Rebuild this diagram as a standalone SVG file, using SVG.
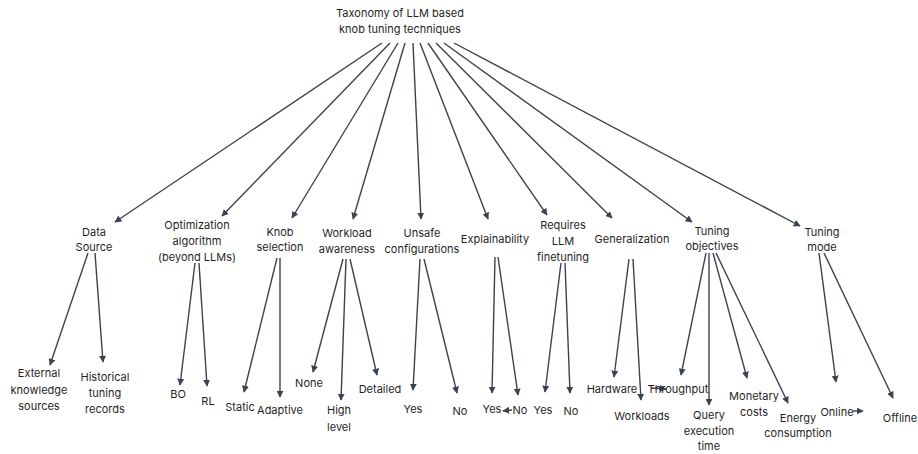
<svg xmlns="http://www.w3.org/2000/svg" width="918" height="454" viewBox="0 0 918 454">
  <style>
    text { font-family: Inter, "Liberation Sans", sans-serif; font-size: 11px; fill: #1f1f1f; text-anchor: middle; }
    .edge { stroke: #3b4251; stroke-width: 1.4; fill: none; marker-end: url(#arrow); }
  </style>
  <defs>
    <marker id="arrow" viewBox="0 0 10 10" refX="9" refY="5" markerWidth="7" markerHeight="7" markerUnits="userSpaceOnUse" orient="auto">
      <path d="M0,0 L10,5 L0,10 z" fill="#3b4251"/>
    </marker>
  </defs>
  <rect width="918" height="454" fill="#ffffff"/>

  <g id="connectors">
    <!-- root to categories -->
    <line class="edge" x1="382" y1="43" x2="115" y2="222"/>
    <line class="edge" x1="390" y1="43" x2="222" y2="216"/>
    <line class="edge" x1="398" y1="43" x2="292" y2="218"/>
    <line class="edge" x1="405" y1="43" x2="353" y2="219"/>
    <line class="edge" x1="413" y1="43" x2="421" y2="219"/>
    <line class="edge" x1="420" y1="43" x2="488" y2="219"/>
    <line class="edge" x1="428" y1="43" x2="547" y2="215"/>
    <line class="edge" x1="436" y1="43" x2="612" y2="218"/>
    <line class="edge" x1="444" y1="43" x2="692" y2="222"/>
    <line class="edge" x1="454" y1="43" x2="800" y2="226"/>
    <!-- Data Source -->
    <line class="edge" x1="88" y1="253" x2="50" y2="365"/>
    <line class="edge" x1="95" y1="253" x2="103" y2="362"/>
    <!-- Optimization algorithm -->
    <line class="edge" x1="195" y1="263" x2="180" y2="385"/>
    <line class="edge" x1="199" y1="263" x2="207" y2="386"/>
    <!-- Knob selection -->
    <line class="edge" x1="277" y1="258" x2="244" y2="392"/>
    <line class="edge" x1="280" y1="258" x2="280" y2="397"/>
    <!-- Workload awareness -->
    <line class="edge" x1="343" y1="259" x2="313" y2="372"/>
    <line class="edge" x1="346" y1="259" x2="341" y2="400"/>
    <line class="edge" x1="350" y1="259" x2="377" y2="375"/>
    <!-- Unsafe configurations -->
    <line class="edge" x1="420" y1="259" x2="413" y2="390"/>
    <line class="edge" x1="424" y1="259" x2="457" y2="393"/>
    <!-- Explainability -->
    <line class="edge" x1="495" y1="257" x2="492" y2="393"/>
    <line class="edge" x1="498" y1="257" x2="518" y2="395"/>
    <line class="edge" x1="512" y1="410" x2="503" y2="411"/>
    <!-- Requires LLM finetuning -->
    <line class="edge" x1="561" y1="263" x2="545" y2="392"/>
    <line class="edge" x1="565" y1="263" x2="570" y2="393"/>
    <!-- Generalization -->
    <line class="edge" x1="629" y1="259" x2="614" y2="377"/>
    <line class="edge" x1="633" y1="259" x2="641" y2="400"/>
    <!-- Tuning objectives -->
    <line class="edge" x1="706" y1="253" x2="681" y2="375"/>
    <line class="edge" x1="709" y1="253" x2="709" y2="405"/>
    <line class="edge" x1="713" y1="253" x2="747" y2="378"/>
    <line class="edge" x1="716" y1="253" x2="788" y2="403"/>
    <line class="edge" x1="651" y1="388" x2="666" y2="389"/>
    <!-- Tuning mode -->
    <line class="edge" x1="819" y1="253" x2="836" y2="382"/>
    <line class="edge" x1="824" y1="253" x2="893" y2="398"/>
    <line class="edge" x1="853" y1="411" x2="863" y2="411"/>
  </g>

  <g id="root"><text x="400" y="17">Taxonomy of LLM based</text><text x="400" y="33">knob tuning techniques</text></g>

  <g id="data-source"><text x="94" y="236">Data</text><text x="94" y="251">Source</text></g>
  <g id="optimization"><text x="197" y="229">Optimization</text><text x="197" y="245">algorithm</text><text x="197" y="261">(beyond LLMs)</text></g>
  <g id="knob-selection"><text x="280" y="236">Knob</text><text x="280" y="251">selection</text></g>
  <g id="workload-awareness"><text x="347" y="237">Workload</text><text x="347" y="253">awareness</text></g>
  <g id="unsafe-configurations"><text x="422" y="237">Unsafe</text><text x="422" y="253">configurations</text></g>
  <g id="explainability"><text x="495" y="243">Explainability</text></g>
  <g id="requires-llm-finetuning"><text x="563" y="229">Requires</text><text x="563" y="245">LLM</text><text x="563" y="261">finetuning</text></g>
  <g id="generalization"><text x="632" y="243">Generalization</text></g>
  <g id="tuning-objectives"><text x="712" y="235">Tuning</text><text x="712" y="250">objectives</text></g>
  <g id="tuning-mode"><text x="822" y="236">Tuning</text><text x="822" y="251">mode</text></g>

  <g id="external-knowledge"><text x="39" y="377">External</text><text x="39" y="394">knowledge</text><text x="39" y="410">sources</text></g>
  <g id="historical-records"><text x="105" y="381">Historical</text><text x="105" y="397">tuning</text><text x="105" y="413">records</text></g>
  <g id="bo"><text x="178" y="398">BO</text></g>
  <g id="rl"><text x="208" y="405">RL</text></g>
  <g id="static"><text x="240" y="411">Static</text></g>
  <g id="adaptive"><text x="280" y="414">Adaptive</text></g>
  <g id="none"><text x="309" y="387">None</text></g>
  <g id="high-level"><text x="339" y="414">High</text><text x="339" y="431">level</text></g>
  <g id="detailed"><text x="380" y="393">Detailed</text></g>
  <g id="unsafe-yes"><text x="413" y="413">Yes</text></g>
  <g id="unsafe-no"><text x="460" y="415">No</text></g>
  <g id="explain-yes"><text x="492" y="413">Yes</text></g>
  <g id="explain-no"><text x="520" y="414">No</text></g>
  <g id="finetune-yes"><text x="543" y="414">Yes</text></g>
  <g id="finetune-no"><text x="571" y="415">No</text></g>
  <g id="hardware"><text x="612" y="393">Hardware</text></g>
  <g id="workloads"><text x="642" y="420">Workloads</text></g>
  <g id="throughput"><text x="678" y="393">Throughput</text></g>
  <g id="query-time"><text x="709" y="419">Query</text><text x="709" y="435">execution</text><text x="709" y="450">time</text></g>
  <g id="monetary-costs"><text x="754" y="400">Monetary</text><text x="754" y="416">costs</text></g>
  <g id="energy"><text x="798" y="422">Energy</text><text x="798" y="437">consumption</text></g>
  <g id="online"><text x="837" y="416">Online</text></g>
  <g id="offline"><text x="900" y="422">Offline</text></g>
</svg>
